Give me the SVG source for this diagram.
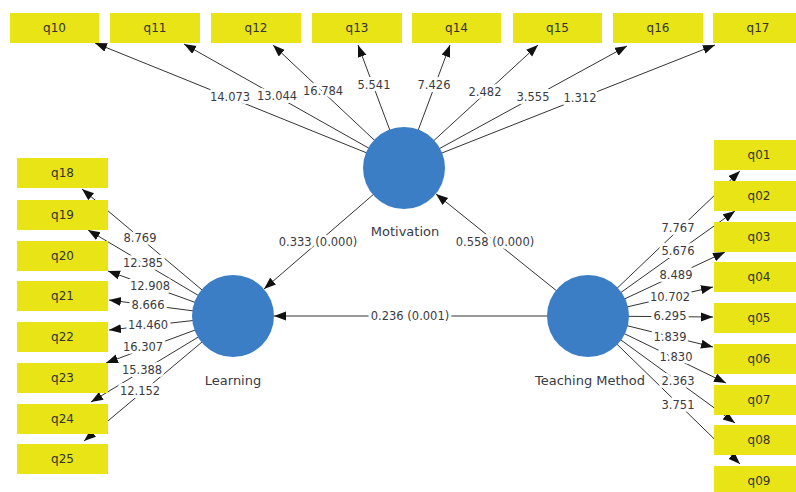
<svg xmlns="http://www.w3.org/2000/svg" width="796" height="492" viewBox="0 0 796 492">
<style>
.box{fill:#E8E415}
.bl{font-family:"DejaVu Sans",Verdana,sans-serif;font-size:12px;fill:#333;text-anchor:middle;dominant-baseline:central}
.el{font-family:"DejaVu Sans",Verdana,sans-serif;font-size:11.5px;fill:#3a3a44;text-anchor:middle;dominant-baseline:central;stroke:#fff;stroke-width:6;paint-order:stroke;stroke-linejoin:round}
.nl{font-family:"DejaVu Sans",Verdana,sans-serif;font-size:13px;fill:#3a3a44;text-anchor:middle;dominant-baseline:central}
.lv{fill:#3C7EC6}
.e{stroke:#333;stroke-width:1;fill:none;marker-end:url(#ah)}
</style>
<defs>
<marker id="ah" markerUnits="userSpaceOnUse" markerWidth="13" markerHeight="10" refX="12" refY="4.5" orient="auto">
<path d="M0,0 L12,4.5 L0,9 z" fill="#111"/>
</marker>
</defs>
<rect width="796" height="492" fill="#fff"/>
<g id="connectors">
<line class="e" x1="404" y1="168" x2="95" y2="43"/>
<line class="e" x1="404" y1="168" x2="184" y2="44"/>
<line class="e" x1="404" y1="168" x2="273" y2="45"/>
<line class="e" x1="404" y1="168" x2="358" y2="45"/>
<line class="e" x1="404" y1="168" x2="450" y2="45"/>
<line class="e" x1="404" y1="168" x2="538" y2="45"/>
<line class="e" x1="404" y1="168" x2="627" y2="46"/>
<line class="e" x1="404" y1="168" x2="715" y2="45"/>
<line class="e" x1="233" y1="316" x2="82" y2="189"/>
<line class="e" x1="233" y1="316" x2="88" y2="230"/>
<line class="e" x1="233" y1="316" x2="108" y2="271"/>
<line class="e" x1="233" y1="316" x2="109" y2="300"/>
<line class="e" x1="233" y1="316" x2="109" y2="330"/>
<line class="e" x1="233" y1="316" x2="106" y2="363"/>
<line class="e" x1="233" y1="316" x2="91" y2="402"/>
<line class="e" x1="233" y1="316" x2="84" y2="441"/>
<line class="e" x1="588" y1="316" x2="740" y2="171"/>
<line class="e" x1="588" y1="316" x2="735" y2="211"/>
<line class="e" x1="588" y1="316" x2="725" y2="252"/>
<line class="e" x1="588" y1="316" x2="713" y2="287"/>
<line class="e" x1="588" y1="316" x2="713" y2="317"/>
<line class="e" x1="588" y1="316" x2="713" y2="347"/>
<line class="e" x1="588" y1="316" x2="726" y2="383"/>
<line class="e" x1="588" y1="316" x2="735" y2="423"/>
<line class="e" x1="588" y1="316" x2="740" y2="464"/>
<line class="e" x1="404" y1="168" x2="264" y2="289"/>
<line class="e" x1="588" y1="316" x2="436" y2="194"/>
<line class="e" x1="588" y1="316" x2="274" y2="316"/>
</g>
<g id="edge-labels">
<text class="el" x="230" y="97">14.073</text>
<text class="el" x="277" y="96">13.044</text>
<text class="el" x="323" y="91">16.784</text>
<text class="el" x="374" y="85">5.541</text>
<text class="el" x="434" y="85">7.426</text>
<text class="el" x="485" y="92">2.482</text>
<text class="el" x="533" y="97">3.555</text>
<text class="el" x="580" y="98">1.312</text>
<text class="el" x="140" y="238">8.769</text>
<text class="el" x="143" y="263">12.385</text>
<text class="el" x="150" y="286">12.908</text>
<text class="el" x="148" y="305">8.666</text>
<text class="el" x="148" y="325">14.460</text>
<text class="el" x="143" y="347">16.307</text>
<text class="el" x="142" y="370">15.388</text>
<text class="el" x="140" y="391">12.152</text>
<text class="el" x="678" y="228">7.767</text>
<text class="el" x="678" y="251">5.676</text>
<text class="el" x="676" y="275">8.489</text>
<text class="el" x="670" y="297">10.702</text>
<text class="el" x="670" y="316">6.295</text>
<text class="el" x="670" y="337">1.839</text>
<text class="el" x="676" y="357">1.830</text>
<text class="el" x="678" y="381">2.363</text>
<text class="el" x="678" y="405">3.751</text>
<text class="el" x="318" y="242">0.333 (0.000)</text>
<text class="el" x="495" y="242">0.558 (0.000)</text>
<text class="el" x="410" y="316">0.236 (0.001)</text>
</g>
<g id="Motivation"><circle class="lv" cx="404" cy="168" r="41"/><text class="nl" x="405" y="231">Motivation</text></g>
<g id="Learning"><circle class="lv" cx="233" cy="316" r="41"/><text class="nl" x="233" y="380">Learning</text></g>
<g id="TeachingMethod"><circle class="lv" cx="588" cy="316" r="41"/><text class="nl" x="590" y="380">Teaching Method</text></g>
<g id="q10"><rect class="box" x="10" y="13" width="89" height="30"/><text class="bl" x="54.5" y="28">q10</text></g>
<g id="q11"><rect class="box" x="110" y="13" width="90" height="30"/><text class="bl" x="155" y="28">q11</text></g>
<g id="q12"><rect class="box" x="211" y="13" width="90" height="30"/><text class="bl" x="256" y="28">q12</text></g>
<g id="q13"><rect class="box" x="312" y="13" width="90" height="30"/><text class="bl" x="357" y="28">q13</text></g>
<g id="q14"><rect class="box" x="412" y="13" width="89" height="30"/><text class="bl" x="456.5" y="28">q14</text></g>
<g id="q15"><rect class="box" x="513" y="13" width="89" height="30"/><text class="bl" x="557.5" y="28">q15</text></g>
<g id="q16"><rect class="box" x="613" y="13" width="90" height="30"/><text class="bl" x="658" y="28">q16</text></g>
<g id="q17"><rect class="box" x="713" y="13" width="90" height="30"/><text class="bl" x="758" y="28">q17</text></g>
<g id="q18"><rect class="box" x="17" y="158" width="91" height="30"/><text class="bl" x="62.5" y="173">q18</text></g>
<g id="q19"><rect class="box" x="17" y="200" width="91" height="30"/><text class="bl" x="62.5" y="215">q19</text></g>
<g id="q20"><rect class="box" x="17" y="241" width="91" height="30"/><text class="bl" x="62.5" y="256">q20</text></g>
<g id="q21"><rect class="box" x="17" y="281" width="91" height="30"/><text class="bl" x="62.5" y="296">q21</text></g>
<g id="q22"><rect class="box" x="17" y="322" width="91" height="30"/><text class="bl" x="62.5" y="337">q22</text></g>
<g id="q23"><rect class="box" x="17" y="363" width="91" height="30"/><text class="bl" x="62.5" y="378">q23</text></g>
<g id="q24"><rect class="box" x="17" y="404" width="91" height="30"/><text class="bl" x="62.5" y="419">q24</text></g>
<g id="q25"><rect class="box" x="17" y="444" width="91" height="30"/><text class="bl" x="62.5" y="459">q25</text></g>
<g id="q01"><rect class="box" x="714" y="140" width="90" height="30"/><text class="bl" x="759" y="155">q01</text></g>
<g id="q02"><rect class="box" x="714" y="181" width="90" height="30"/><text class="bl" x="759" y="196">q02</text></g>
<g id="q03"><rect class="box" x="714" y="222" width="90" height="30"/><text class="bl" x="759" y="237">q03</text></g>
<g id="q04"><rect class="box" x="714" y="262" width="90" height="30"/><text class="bl" x="759" y="277">q04</text></g>
<g id="q05"><rect class="box" x="714" y="303" width="90" height="30"/><text class="bl" x="759" y="318">q05</text></g>
<g id="q06"><rect class="box" x="714" y="344" width="90" height="30"/><text class="bl" x="759" y="359">q06</text></g>
<g id="q07"><rect class="box" x="714" y="385" width="90" height="30"/><text class="bl" x="759" y="400">q07</text></g>
<g id="q08"><rect class="box" x="714" y="425" width="90" height="30"/><text class="bl" x="759" y="440">q08</text></g>
<g id="q09"><rect class="box" x="714" y="466" width="90" height="30"/><text class="bl" x="759" y="481">q09</text></g>
</svg>
